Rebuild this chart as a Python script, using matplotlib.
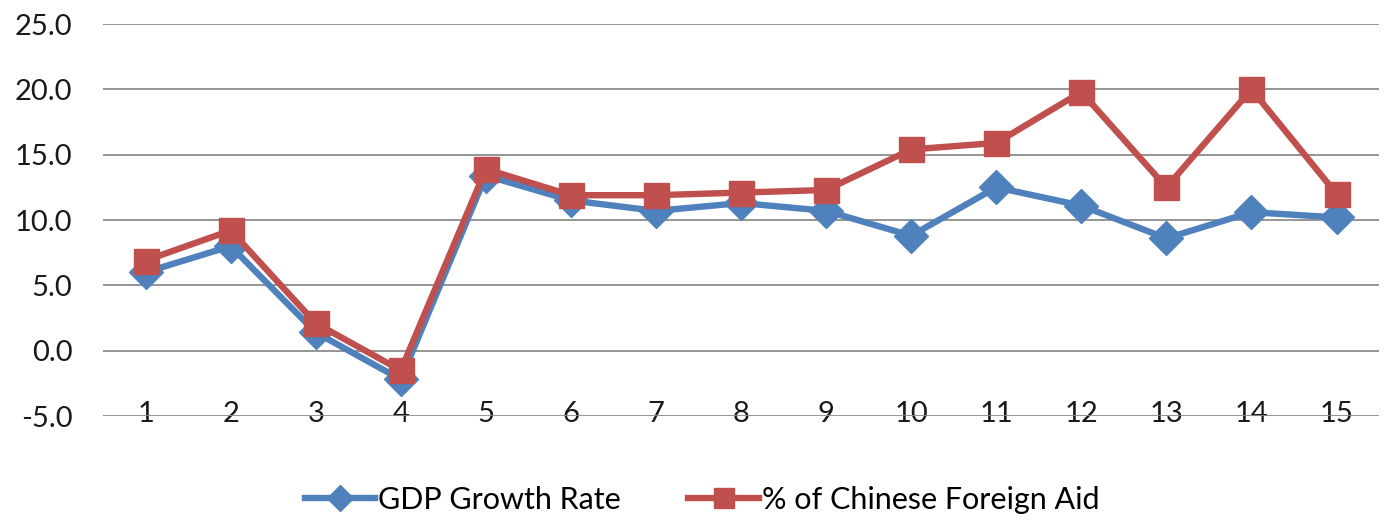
import matplotlib.pyplot as plt

# series, one value per period
periods = list(range(1, 16))
gdp_growth = [6.0, 8.0, 1.4, -2.2, 13.4, 11.5, 10.7, 11.3, 10.7, 8.8, 12.5, 11.1, 8.6, 10.6, 10.2]
foreign_aid = [6.9, 9.2, 2.1, -1.5, 13.9, 11.9, 11.9, 12.1, 12.3, 15.4, 15.9, 19.8, 12.5, 20.0, 12.0]

BLUE = "#4F81BD"
RED = "#C0504D"

plt.rcParams["font.family"] = ["Lato", "DejaVu Sans"]

fig = plt.figure(figsize=(13.85, 5.22), dpi=100)
ax = fig.add_axes([0.0744, 0.203, 0.9213, 0.751])

ax.plot(periods, gdp_growth, color=BLUE, lw=4.6, marker="D", ms=17,
        mfc=BLUE, mec=BLUE, label="GDP Growth Rate", zorder=3)
ax.plot(periods, foreign_aid, color=RED, lw=4.6, marker="s", ms=18,
        mfc=RED, mec=RED, label="% of Chinese Foreign Aid", zorder=4)

ax.set_xlim(0.5, 15.5)
ax.set_ylim(-5, 25)
ax.set_yticks(range(-5, 30, 5))
ax.set_yticklabels([f"{v:.1f}" for v in range(-5, 30, 5)])
ax.set_xticks(periods)
ax.set_xticklabels([str(p) for p in periods])

ax.grid(axis="y", color="#8C8C8C", lw=1.3, zorder=0)
ax.set_axisbelow(True)
for s in ax.spines.values():
    s.set_visible(False)
ax.tick_params(axis="both", length=0, labelsize=21, labelcolor="#1a1a1a")
ax.tick_params(axis="y", pad=22)
ax.tick_params(axis="x", pad=-11)

fig.legend(loc="center", bbox_to_anchor=(0.507, 0.042), ncol=2, frameon=False,
           fontsize=22, handlelength=2.3, handletextpad=0.1, columnspacing=2.2,
           markerscale=0.8)

fig.savefig("out.png", dpi=100)
